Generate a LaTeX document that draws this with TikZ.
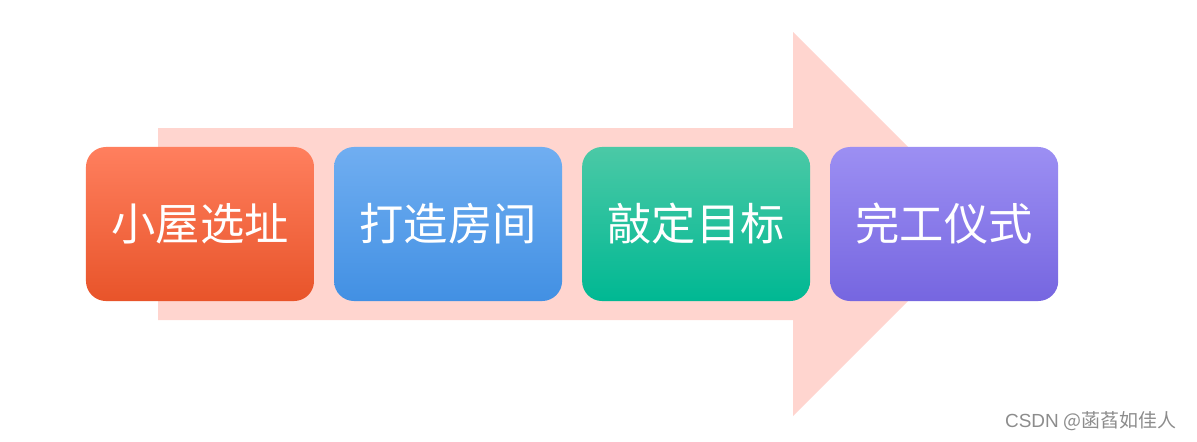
\documentclass[tikz,border=0pt]{standalone}
\usepackage{fontspec}
\newfontfamily\cjk{Noto Sans CJK SC}
\newfontfamily\lat{Liberation Sans}
\usetikzlibrary{positioning}
\definecolor{arrowpink}{HTML}{FFD5CF}
\definecolor{siteTop}{HTML}{FF7F5E}
\definecolor{siteBot}{HTML}{E8542A}
\definecolor{roomTop}{HTML}{70AEF1}
\definecolor{roomBot}{HTML}{4290E3}
\definecolor{goalTop}{HTML}{4BC9A6}
\definecolor{goalBot}{HTML}{00B893}
\definecolor{doneTop}{HTML}{9C8FF3}
\definecolor{doneBot}{HTML}{7666E0}

\begin{document}
\begin{tikzpicture}[
    x=0.025cm, y=-0.025cm,
    stage/.style={rounded corners=0.5cm, minimum width=5.7cm, minimum height=3.85cm,
      inner sep=0pt, outer sep=0pt, text=white, font=\cjk\fontsize{31.5}{36}\selectfont},
  ]
    \useasboundingbox (0,0) rectangle (1197,441);

    % 背景箭头
    \fill[arrowpink] (158,128) -- (793,128) -- (793,32) -- (985,224)
      -- (793,416) -- (793,320) -- (158,320) -- cycle;

    % 四个阶段
    \node[stage, top color=siteTop, bottom color=siteBot] (site) at (200,224) {小屋选址};
    \node[stage, top color=roomTop, bottom color=roomBot, right=0.5cm of site] (room) {打造房间};
    \node[stage, top color=goalTop, bottom color=goalBot, right=0.5cm of room] (goal) {敲定目标};
    \node[stage, top color=doneTop, bottom color=doneBot, right=0.5cm of goal] (done) {完工仪式};

    % 水印
    \node[anchor=east, text=black!45, font=\cjk\fontsize{13.5}{15}\selectfont] (mark) at (1181,421) {{\lat CSDN} @菡萏如佳人};
\end{tikzpicture}
\end{document}
